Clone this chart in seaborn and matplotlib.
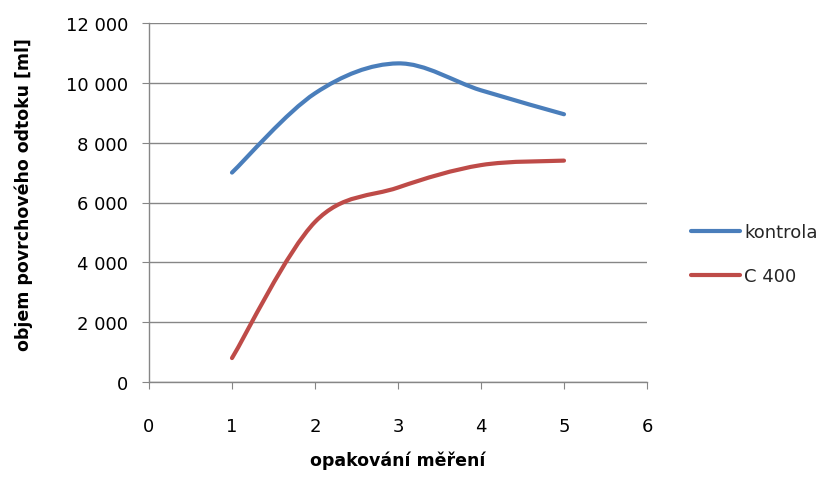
import numpy as np
import pandas as pd
import matplotlib
matplotlib.use("Agg")
import matplotlib.pyplot as plt
from matplotlib.path import Path
from matplotlib.patches import PathPatch
from matplotlib.lines import Line2D
from matplotlib.ticker import FuncFormatter
import seaborn as sns

# data
opakovani = [1, 2, 3, 4, 5]
kontrola = [7000, 9650, 10650, 9750, 8950]
c400 = [800, 5350, 6500, 7250, 7400]
series_names = ["kontrola", "C 400"]
colors = ["#4A7EBB", "#BE4B48"]

df = pd.DataFrame({
    "opakování": opakovani * 2,
    "objem": kontrola + c400,
    "série": [series_names[0]] * 5 + [series_names[1]] * 5,
})

sns.set_theme(style="white")
plt.rcParams["font.family"] = ["DejaVu Sans"]

fig = plt.figure(figsize=(8.30, 4.81), dpi=100)
ax = fig.add_axes([149 / 830, 1 - 383 / 481, 498 / 830, 359 / 481])

sns.lineplot(data=df, x="opakování", y="objem", hue="série",
             palette=colors, ax=ax, legend=False, linewidth=0)


def smooth_path(xs, ys):
    pts = np.column_stack([xs, ys]).astype(float)
    n = len(pts)
    verts = [pts[0]]
    codes = [Path.MOVETO]
    for i in range(n - 1):
        p0 = pts[max(i - 1, 0)]
        p1 = pts[i]
        p2 = pts[i + 1]
        p3 = pts[min(i + 2, n - 1)]
        c1 = p1 + (p2 - p0) / 6.0
        c2 = p2 - (p3 - p1) / 6.0
        verts += [c1, c2, p2]
        codes += [Path.CURVE4] * 3
    return Path(verts, codes)


for ys, col in zip([kontrola, c400], colors):
    patch = PathPatch(smooth_path(opakovani, ys), facecolor="none",
                      edgecolor=col, linewidth=3.0, capstyle="round",
                      joinstyle="round", zorder=3)
    ax.add_patch(patch)

ax.set_xlim(0, 6)
ax.set_ylim(0, 12000)
ax.set_xticks(range(0, 7))
ax.set_yticks(range(0, 12001, 2000))
ax.yaxis.set_major_formatter(FuncFormatter(lambda v, p: f"{v:,.0f}".replace(",", " ")))

grid_col = "#868686"
ax.grid(axis="y", color=grid_col, linewidth=1.0)
ax.grid(axis="x", visible=False)
ax.set_axisbelow(True)
for s in ["top", "right"]:
    ax.spines[s].set_visible(False)
for s in ["left", "bottom"]:
    ax.spines[s].set_color(grid_col)
    ax.spines[s].set_linewidth(1.0)

ax.tick_params(axis="x", direction="out", length=5, width=0.8, color=grid_col,
               pad=20, labelsize=13, labelcolor="black", bottom=True)
ax.tick_params(axis="y", direction="out", length=5, width=0.8, color=grid_col,
               pad=10, labelsize=13, labelcolor="black", left=True)

ax.set_xlabel("opakování měření", fontsize=12.5, fontweight="bold", color="black")
ax.set_ylabel("objem povrchového odtoku [ml]", fontsize=12.5, fontweight="bold", color="black")
ax.xaxis.set_label_coords(0.5, -0.19)
ax.xaxis.label.set_va("top")
ax.yaxis.set_label_coords(-0.233, 0.526)

handles = [Line2D([0], [0], color=c, linewidth=3.0, solid_capstyle="round") for c in colors]
fig.legend(handles, series_names, loc="center left", bbox_to_anchor=(691 / 830, 0.47),
           frameon=False, fontsize=13, handlelength=2.7, handletextpad=0.25,
           labelspacing=1.45, borderpad=0, borderaxespad=0)

fig.savefig("out.png", dpi=100)
